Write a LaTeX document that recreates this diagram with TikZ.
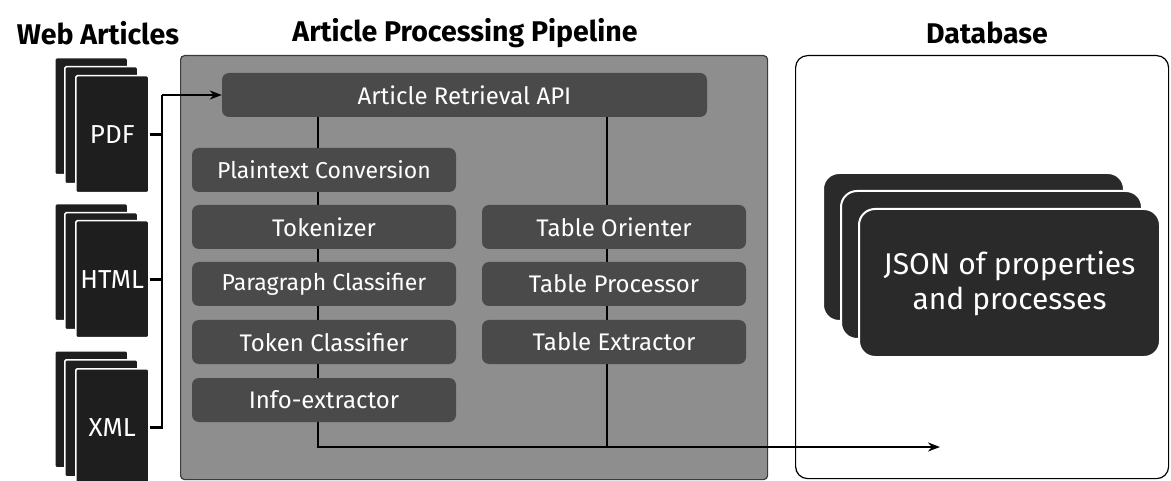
\documentclass[tikz,border=0pt]{standalone}
\usepackage{fontspec}
\setmainfont{Fira Sans}
\usetikzlibrary{arrows.meta}
\definecolor{pagefill}{HTML}{1E1E1E}
\definecolor{stepfill}{HTML}{4A4A4A}
\definecolor{pipefill}{HTML}{8E8E8E}
\definecolor{pipeline}{HTML}{3A3A3A}
\definecolor{cardfill}{HTML}{2A2A2A}
\begin{document}
\begin{tikzpicture}[x=1pt,y=-1pt,
  title/.style={font=\bfseries\fontsize{28.5}{32}\selectfont, text=black, inner sep=0pt},
  pagebox/.style={draw=white, line width=1.5pt, fill=pagefill, rounded corners=1.5pt,
    minimum width=73pt, minimum height=117pt, inner sep=0pt, anchor=north west,
    text=white, font=\fontsize{26}{30}\selectfont},
  stepbox/.style={fill=stepfill, rounded corners=7pt, text=white, minimum height=44pt,
    minimum width=264pt, inner sep=0pt, font=\fontsize{24}{28}\selectfont},
  smallstep/.style={stepbox, font=\fontsize{23}{26}\selectfont},
  card/.style={draw=white, line width=2pt, fill=cardfill, rounded corners=16pt,
    minimum width=301pt, minimum height=148pt, inner sep=0pt, anchor=north west,
    text=white, align=center, font=\fontsize{30}{35}\selectfont},
  conn/.style={line width=2.8pt, black},
  arr/.style={-{Stealth[length=12pt,width=9pt]}}
]
\useasboundingbox (0,0) rectangle (1171,481);
\clip (0,0) rectangle (1171,481);

% titles
\node[title] (t1) at (98,33) {Web Articles};
\node[title] (t2) at (465,33) {Article Processing Pipeline};
\node[title] (t3) at (987,33) {Database};

% containers
\node[draw=pipeline, line width=1.2pt, fill=pipefill, rounded corners=4pt, anchor=north west,
  minimum width=587pt, minimum height=424pt, inner sep=0pt] (pipe) at (180,55) {};
\node[draw=black, line width=1.2pt, fill=white, rounded corners=12pt, anchor=north west,
  minimum width=373pt, minimum height=423pt, inner sep=0pt] (db) at (795,55) {};

% web article stacks
\node[pagebox] (pdfA) at (54,57) {};
\node[pagebox] (pdfB) at (64,66) {};
\node[pagebox] (pdf) at (75,75) {PDF};
\node[pagebox] (htmlA) at (54,203) {};
\node[pagebox] (htmlB) at (64,212) {};
\node[pagebox] (html) at (75,220) {HTML};
\node[pagebox] (xmlA) at (54,350) {};
\node[pagebox] (xmlB) at (64,359) {};
\node[pagebox] (xml) at (75,368) {XML};

% api box
\node[stepbox, minimum width=485pt] (api) at (464.5,95) {Article Retrieval API};

% pipeline connector lines (behind the steps)
\coordinate (lx) at (318,0);
\coordinate (rx) at (607,0);
\coordinate (hy) at (0,447);
\coordinate (dbin) at (940,447);
\draw[conn] (lx |- api.south) -- (lx |- hy) -- (rx |- hy);
\draw[conn] (rx |- api.south) -- (rx |- hy);
\draw[conn, arr, line width=2.4pt] (rx |- hy) -- (dbin);

% steps
\node[smallstep] (pc) at (324,170) {Plaintext Conversion};
\node[stepbox] (tok) at (324,227) {Tokenizer};
\node[smallstep] (par) at (324,284) {Paragraph Classifier};
\node[stepbox] (tcl) at (324,342) {Token Classifier};
\node[stepbox] (inf) at (324,400) {Info-extractor};
\node[stepbox] (tor) at (614,227) {Table Orienter};
\node[stepbox] (tpr) at (614,284) {Table Processor};
\node[stepbox] (tex) at (614,342) {Table Extractor};

% input bus
\coordinate (bus) at (162,0);
\draw[conn] (pdf.east) -- (pdf.east -| bus);
\draw[conn] (html.east) -- (html.east -| bus);
\draw[conn] (xml.east) -- (xml.east -| bus) -- (bus |- api.west);
\draw[conn, arr, line width=2.4pt] (bus |- api.west) -- (api.west);

% JSON cards
\node[card] (jsA) at (822,172) {};
\node[card] (jsB) at (840,190) {};
\node[card] (js) at (858,208) {JSON of properties\\and processes};
\end{tikzpicture}
\end{document}
